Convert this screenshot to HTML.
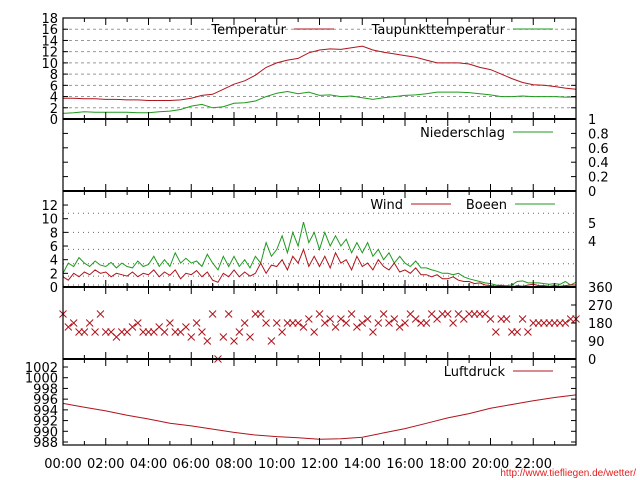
<!DOCTYPE html>
<html><head><meta charset="utf-8"><style>
body{margin:0;background:#fff}
svg{display:block;font-family:"DejaVu Sans","Liberation Sans",sans-serif}
</style></head><body>
<svg id="c" width="640" height="480" viewBox="0 0 640 480" xmlns="http://www.w3.org/2000/svg"></svg>
<script>
const hours=["00:00","02:00","04:00","06:00","08:00","10:00","12:00","14:00","16:00","18:00","20:00","22:00"];
const tempTicks=[0,2,4,6,8,10,12,14,16,18];
const rainTicks=["0","0.2","0.4","0.6","0.8","1"];
const windTicks=[0,2,4,6,8,10,12];
const dirTicks=[0,90,180,270,360];
const presTicks=[988,990,992,994,996,998,1000,1002];
const beaufort=[0.3,1.6,3.4,5.5,8.0,10.8];
const temperature=[3.7,3.7,3.6,3.6,3.5,3.5,3.4,3.4,3.3,3.3,3.3,3.4,3.7,4.2,4.4,5.3,6.2,6.8,7.8,9.2,10.0,10.5,10.8,11.8,12.3,12.5,12.4,12.7,13.0,12.3,11.9,11.6,11.3,11.0,10.5,10.0,10.0,10.0,9.8,9.2,8.8,8.0,7.2,6.5,6.1,6.0,5.8,5.5,5.3];
const dewpoint=[1.0,1.1,1.3,1.2,1.2,1.2,1.2,1.1,1.1,1.3,1.4,1.7,2.3,2.6,2.0,2.2,2.8,2.9,3.2,4.0,4.6,4.9,4.5,4.8,4.2,4.3,4.0,4.1,3.8,3.5,3.8,4.0,4.2,4.3,4.5,4.8,4.8,4.8,4.7,4.5,4.3,4.0,4.0,4.1,4.0,4.0,4.0,3.9,3.9];
const wind=[1.5,1.0,2.0,1.5,2.2,1.8,2.5,2.0,2.2,1.5,2.0,1.8,1.6,2.2,1.5,2.0,1.8,2.5,1.5,2.2,1.7,2.5,1.2,2.0,1.8,2.4,1.5,2.2,1.0,0.7,2.0,1.5,2.5,1.5,2.2,1.6,2.0,3.5,2.0,3.2,3.0,4.0,2.5,4.5,3.5,5.5,3.0,4.5,3.0,4.5,2.8,5.0,3.5,4.0,2.5,4.5,3.0,3.5,2.5,4.0,3.0,2.5,3.5,2.2,2.5,2.0,2.8,1.8,1.8,1.5,1.8,1.2,1.2,1.5,1.0,0.8,0.8,0.5,0.6,0.3,0.2,0.1,0.3,0.0,0.0,0.2,0.1,0.3,0.4,0.2,0.2,0.1,0.2,0.1,0.2,0.3,0.3];
const gusts=[2.0,3.5,3.0,4.3,3.5,3.0,3.8,3.2,3.0,3.6,2.8,3.5,3.0,2.8,3.8,3.0,3.3,4.5,3.0,4.0,3.0,5.0,3.5,4.2,3.5,3.8,3.0,4.8,3.5,2.5,4.5,3.0,4.5,3.0,4.0,2.8,4.5,3.5,6.5,4.5,5.5,7.5,5.0,8.0,6.0,9.5,6.5,8.0,5.5,8.0,6.0,7.5,6.0,7.0,5.0,6.5,5.0,6.5,4.5,5.5,4.0,5.0,3.5,4.5,3.5,3.0,3.8,2.8,2.8,2.5,2.3,2.0,2.0,1.8,2.0,1.5,1.2,1.0,0.8,0.6,0.5,0.3,0.2,0.2,0.3,0.8,0.9,0.6,0.6,0.6,0.5,0.4,0.5,0.4,0.8,0.3,0.7];
const direction=[225,160,180,135,135,180,135,225,135,135,110,135,135,160,180,135,135,135,160,135,180,135,135,160,110,180,135,90,225,0,110,225,90,135,180,110,225,225,180,90,180,135,180,180,180,160,200,135,225,180,200,160,200,180,225,160,180,200,135,180,225,180,200,160,180,225,200,180,180,225,200,225,225,180,225,200,225,225,225,225,200,135,200,200,135,135,200,135,180,180,180,180,180,180,180,200,200];
const pressure=[995.2,994.5,993.8,993.0,992.3,991.5,991.0,990.4,989.8,989.3,989.0,988.8,988.5,988.6,988.9,989.7,990.5,991.5,992.5,993.3,994.3,995.0,995.7,996.3,996.8];

const svg=document.getElementById('c');const NS='http://www.w3.org/2000/svg';
const X0=63,X1=576;
const x=h=>X0+(X1-X0)*h/24;
const yT=v=>119-v*(101/18);
const yR=v=>191-v*72;
const yW=v=>287-v*6.83;
const yD=v=>359-v*0.2;
const yP=v=>442-(v-988)*(75/14);
function el(t,a,name){const e=document.createElementNS(NS,t);for(const k in a)e.setAttribute(k,a[k]);


svg.appendChild(e);return e;}
function txt(s,xx,yy,anchor,name,col){const e=el('text',{x:xx,y:yy,'font-size':13,'text-anchor':anchor||'start',fill:col||'#000'},name);e.textContent=s;return e;}
function line(arr,step,fy,col,name){let d='';arr.forEach((v,i)=>{d+=(i?'L':'M')+x(i*step).toFixed(1)+','+fy(v).toFixed(1);});el('path',{d:d,fill:'none',stroke:col,'stroke-width':1},name);}
const RED='#b0141c',GREEN='#1f9a1f';
tempTicks.slice(1,9).forEach(v=>el('line',{x1:X0,x2:X1,y1:yT(v),y2:yT(v),stroke:'#999','stroke-dasharray':'3,3'},'temp-gridline'));
beaufort.forEach(v=>el('line',{x1:X0,x2:X1,y1:yW(v),y2:yW(v),stroke:'#666','stroke-dasharray':'1,4'},'wind-gridline'));
line(temperature,0.5,yT,RED,'temperature-line');
line(dewpoint,0.5,yT,GREEN,'dewpoint-line');
line(gusts,0.25,yW,GREEN,'gusts-line');
line(wind,0.25,yW,RED,'wind-line');
direction.forEach((v,i)=>{const cx=x(i*0.25),cy=yD(v);el('path',{d:`M${cx-3.5},${cy-3.5}L${cx+3.5},${cy+3.5}M${cx-3.5},${cy+3.5}L${cx+3.5},${cy-3.5}`,stroke:RED,'stroke-width':1},'direction-point');});
line(pressure,1,yP,RED,'pressure-line');
const bounds=[18,119,191,287,359,445];
el('rect',{x:X0,y:18,width:X1-X0,height:427,fill:'none',stroke:'#000','stroke-width':1.2},'plot-frame');
bounds.slice(1,5).forEach(b=>el('line',{x1:X0,x2:X1,y1:b,y2:b,stroke:'#000','stroke-width':2},'panel-divider'));
for(let h=1;h<24;h++){bounds.forEach((b,j)=>{if(j>0)el('line',{x1:x(h),x2:x(h),y1:b,y2:b-(h%2?4:7),stroke:'#000'},'x-tick');if(j<5)el('line',{x1:x(h),x2:x(h),y1:b,y2:b+(h%2?4:7),stroke:'#000'},'x-tick');});}
tempTicks.forEach(v=>{txt(String(v),58,yT(v)+5,'end','temp-tick-label');el('line',{x1:X0,x2:X0+5,y1:yT(v),y2:yT(v),stroke:'#000'},'y-tick');el('line',{x1:X1,x2:X1-5,y1:yT(v),y2:yT(v),stroke:'#000'},'y-tick');});
rainTicks.forEach(v=>{txt(v,588,yR(+v)+5,'start','rain-tick-label');el('line',{x1:X0,x2:X0+5,y1:yR(+v),y2:yR(+v),stroke:'#000'},'y-tick');el('line',{x1:X1,x2:X1-5,y1:yR(+v),y2:yR(+v),stroke:'#000'},'y-tick');});
windTicks.forEach(v=>{txt(String(v),58,yW(v)+5,'end','wind-tick-label');el('line',{x1:X0,x2:X0+5,y1:yW(v),y2:yW(v),stroke:'#000'},'y-tick');});
txt('5',588,228,'start','beaufort-label');txt('4',588,246,'start','beaufort-label');
dirTicks.forEach(v=>{txt(String(v),588,yD(v)+5,'start','direction-tick-label');el('line',{x1:X1,x2:X1-5,y1:yD(v),y2:yD(v),stroke:'#000'},'y-tick');});
presTicks.forEach(v=>{txt(String(v),58,yP(v)+5,'end','pressure-tick-label');el('line',{x1:X0,x2:X0+5,y1:yP(v),y2:yP(v),stroke:'#000'},'y-tick');el('line',{x1:X1,x2:X1-5,y1:yP(v),y2:yP(v),stroke:'#000'},'y-tick');});
hours.forEach((s,i)=>txt(s,x(i*2),468,'middle','x-tick-label'));
function leg(s,tx,ly,col,name){txt(s,tx,ly+5,'end',name+'-label');el('line',{x1:tx+8,x2:tx+48,y1:ly,y2:ly,stroke:col},name+'-swatch');}
leg('Temperatur',286,29,RED,'legend-temperatur');
leg('Taupunkttemperatur',505,29,GREEN,'legend-taupunkt');
leg('Niederschlag',505,132,GREEN,'legend-niederschlag');
leg('Wind',403,204,RED,'legend-wind');
leg('Boeen',507,204,GREEN,'legend-boeen');
leg('Luftdruck',505,371,RED,'legend-luftdruck');
const u=txt('http://www.tiefliegen.de/wetter/',636,476,'end','source-url','#e02020');u.setAttribute('font-size','10');u.setAttribute('font-family','Liberation Sans, sans-serif');
</script>
</body></html>
